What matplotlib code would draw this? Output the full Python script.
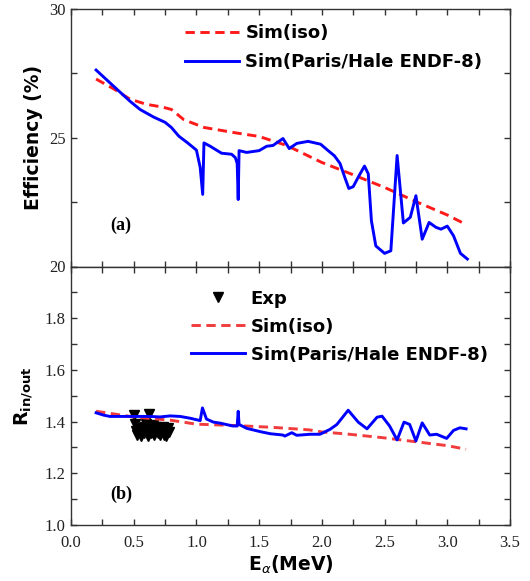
import matplotlib
matplotlib.use("Agg")
import matplotlib.pyplot as plt
from matplotlib.ticker import MultipleLocator, FixedLocator

# ---------------- data ----------------
# Panel (a): efficiency (%)
iso_a_E = [0.2, 0.34, 0.47, 0.6, 0.73, 0.8, 0.9, 1.06, 1.3, 1.5, 1.72, 2.0, 2.22, 2.5, 2.76, 3.0, 3.15]
iso_a_eff = [27.28, 26.9, 26.5, 26.3, 26.19, 26.1, 25.7, 25.4, 25.2, 25.05, 24.7, 24.04, 23.62, 23.07, 22.5, 22.0, 21.63]

hale_a_E = [0.2, 0.34, 0.47, 0.55, 0.66, 0.75, 0.8, 0.86, 0.93, 1.0, 1.03, 1.05, 1.06, 1.11, 1.2, 1.28,
            1.31, 1.325, 1.333, 1.34, 1.4, 1.5, 1.56, 1.61, 1.69, 1.74, 1.8, 1.89, 1.99, 2.05, 2.1,
            2.145, 2.18, 2.215, 2.25, 2.29, 2.34, 2.37, 2.395, 2.43, 2.5, 2.55, 2.6, 2.65, 2.705,
            2.75, 2.8, 2.855, 2.91, 2.95, 3.0, 3.05, 3.105, 3.16]
hale_a_eff = [27.63, 27.0, 26.42, 26.1, 25.8, 25.6, 25.4, 25.06, 24.8, 24.52, 23.85, 22.8, 24.8, 24.67,
              24.4, 24.36, 24.23, 24.0, 22.6, 24.5, 24.43, 24.5, 24.67, 24.7, 24.97, 24.58, 24.78,
              24.86, 24.75, 24.5, 24.3, 24.0, 23.5, 23.03, 23.1, 23.47, 23.9, 23.6, 21.78, 20.8,
              20.51, 20.61, 24.31, 21.69, 21.91, 22.75, 21.06, 21.71, 21.52, 21.45, 21.57, 21.19,
              20.51, 20.29]

# Panel (b): R_in/out
exp_E = [0.50, 0.62, 0.51, 0.52, 0.53, 0.54, 0.55, 0.56, 0.57, 0.58, 0.59, 0.60, 0.61, 0.63,
         0.64, 0.65, 0.66, 0.67, 0.68, 0.69, 0.70, 0.71, 0.72, 0.73, 0.74, 0.75, 0.76, 0.77, 0.78]
exp_R = [1.425, 1.43, 1.39, 1.365, 1.35, 1.375, 1.36, 1.345, 1.37, 1.355, 1.38, 1.39, 1.345,
         1.37, 1.355, 1.385, 1.35, 1.365, 1.38, 1.355, 1.37, 1.35, 1.365, 1.38, 1.35, 1.365,
         1.345, 1.375, 1.36]

iso_b_E = [0.2, 0.5, 0.8, 1.0, 1.3, 1.6, 1.9, 2.0, 2.2, 2.5, 2.75, 3.0, 3.15]
iso_b_R = [1.44, 1.418, 1.405, 1.39, 1.385, 1.378, 1.368, 1.36, 1.352, 1.337, 1.322, 1.307, 1.293]

hale_b_E = [0.2, 0.26, 0.31, 0.5, 0.63, 0.71, 0.79, 0.87, 0.95, 1.03, 1.048, 1.08, 1.135, 1.19,
            1.29, 1.325, 1.333, 1.34, 1.4, 1.51, 1.59, 1.69, 1.705, 1.76, 1.8, 1.905, 1.985,
            2.065, 2.12, 2.21, 2.29, 2.36, 2.44, 2.48, 2.54, 2.6, 2.655, 2.7, 2.75, 2.8, 2.86,
            2.915, 2.995, 3.05, 3.1, 3.15]
hale_b_R = [1.434, 1.425, 1.42, 1.42, 1.42, 1.418, 1.422, 1.42, 1.413, 1.404, 1.453, 1.41, 1.398,
            1.394, 1.383, 1.383, 1.44, 1.389, 1.374, 1.361, 1.353, 1.348, 1.344, 1.357, 1.347,
            1.351, 1.351, 1.37, 1.389, 1.444, 1.398, 1.372, 1.417, 1.421, 1.383, 1.329, 1.398,
            1.389, 1.325, 1.395, 1.348, 1.351, 1.335, 1.366, 1.376, 1.372]

labels = ["Exp", "Sim(iso)", "Sim(Paris/Hale ENDF-8)"]

# ---------------- style ----------------
W, H = 530, 581
fig = plt.figure(figsize=(W / 100, H / 100), dpi=100)

left = 71 / W
right = 510 / W
top_a = 1 - 9 / H
mid = 1 - 266.5 / H
bot_b = 1 - 525 / H

ax1 = fig.add_axes([left, mid, right - left, top_a - mid])
ax2 = fig.add_axes([left, bot_b, right - left, mid - bot_b], sharex=ax1)

red = "#ff1a1a"
blue = "#0000ff"
lw = 2.1
dash = (3.2, 1.9)

ax1.plot(iso_a_E, iso_a_eff, color=red, lw=lw, dashes=dash, label=labels[1])
ax1.plot(hale_a_E, hale_a_eff, color=blue, lw=lw, label=labels[2])

ax2.plot(exp_E, exp_R, linestyle="none", marker="v", color="black", markersize=7.5, label=labels[0])
ax2.plot(iso_b_E, iso_b_R, color="#f03c3c", lw=lw, dashes=dash, label=labels[1])
ax2.plot(hale_b_E, hale_b_R, color=blue, lw=lw, label=labels[2])

ax1.set_xlim(0, 3.5)
ax1.set_ylim(20, 30)
ax2.set_ylim(1.0, 2.0)

tickfont = {"family": "Liberation Serif", "size": 12}

for ax in (ax1, ax2):
    ax.xaxis.set_major_locator(MultipleLocator(0.5))
    ax.xaxis.set_minor_locator(MultipleLocator(0.25))
    ax.tick_params(which="both", direction="in", top=True, right=True, left=True, bottom=True,
                   width=1.0, color="#333333")
    ax.tick_params(which="major", length=4.5)
    ax.tick_params(which="minor", length=4.0)
    for s in ax.spines.values():
        s.set_linewidth(1.0)
        s.set_color("#333333")

ax1.yaxis.set_major_locator(FixedLocator([20, 25, 30]))
ax1.yaxis.set_minor_locator(FixedLocator([22.5, 27.5]))
ax1.set_yticklabels(["20", "25", "30"], fontdict=tickfont)
ax1.tick_params(axis="x", labelbottom=False)

ax2.yaxis.set_major_locator(FixedLocator([1.0, 1.2, 1.4, 1.6, 1.8, 2.0]))
ax2.yaxis.set_minor_locator(MultipleLocator(0.1))
ax2.set_yticklabels(["1.0", "1.2", "1.4", "1.6", "1.8", ""], fontdict=tickfont)
ax2.set_xticks([0.0, 0.5, 1.0, 1.5, 2.0, 2.5, 3.0, 3.5])
ax2.set_xticklabels(["0.0", "0.5", "1.0", "1.5", "2.0", "2.5", "3.0", "3.5"], fontdict=tickfont)
for ax in (ax1, ax2):
    ax.tick_params(axis="y", which="major", pad=4, labelcolor="#222222")
ax2.tick_params(axis="x", which="major", pad=7, labelcolor="#222222")

labfont = {"family": "DejaVu Sans", "size": 13.5, "weight": "bold"}
ax1.set_ylabel("Efficiency (%)", fontdict=labfont, labelpad=4)
ax2.set_ylabel(r"R$_{\mathbf{in/out}}$", fontdict=labfont, labelpad=7)
ax2.set_xlabel(r"E$_{\alpha}$(MeV)", fontdict=labfont, labelpad=2)

panfont = {"family": "Liberation Serif", "size": 13, "weight": "bold"}
ax1.text((110 - 71) / 439, 0.16, "(a)", transform=ax1.transAxes, fontdict=panfont, va="center", ha="left")
ax2.text((110 - 71) / 439, 0.12, "(b)", transform=ax2.transAxes, fontdict=panfont, va="center", ha="left")

legprops = {"family": "DejaVu Sans", "size": 13, "weight": "bold"}
ax1.legend(loc="upper left", bbox_to_anchor=((185 - 71) / 439, 0.94), frameon=False,
           prop=legprops, handlelength=3.0, handletextpad=0.35, borderaxespad=0,
           borderpad=0, labelspacing=0.6)
ax2.legend(loc="upper left", bbox_to_anchor=((191 - 71) / 439, 0.91), frameon=False,
           prop=legprops, handlelength=3.0, handletextpad=0.3, borderaxespad=0,
           borderpad=0, labelspacing=0.55)

fig.savefig("out.png", dpi=100)
